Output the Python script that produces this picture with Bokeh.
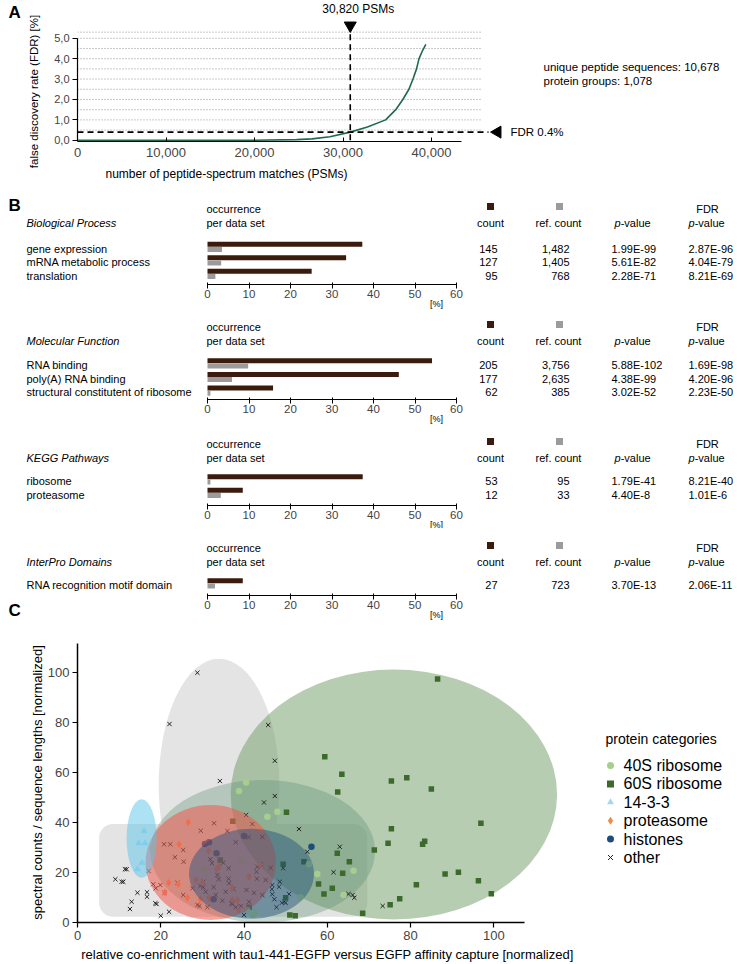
import numpy as np
from bokeh.plotting import figure
from bokeh.models import Range1d, FixedTicker, NumeralTickFormatter
from bokeh.layouts import column
from bokeh.embed import file_html
from bokeh.resources import INLINE
from bokeh.core.properties import value

FONT = "Liberation Sans"
W = 737
LEFT = 77          # common frame left edge of all stacked figures (column aligns frames)

# ---------------- Panel A data ----------------
psm_counts = [0, 10000, 20000, 24760, 26500, 28530, 30820, 32760, 34820, 35960,
              36760, 37450, 37910, 38310, 38590, 38990, 39360]
fdr_percent = [0.0, 0.0, 0.0, 0.03, 0.07, 0.17, 0.40, 0.65, 1.0, 1.5,
               2.0, 2.5, 3.0, 3.5, 4.0, 4.4, 4.7]
psm_cutoff = 30820
fdr_cutoff = 0.4
psm_ticks = [0, 10000, 20000, 30000, 40000]
fdr_ticks = [0, 1, 2, 3, 4, 5]
fdr_tick_labels = ["0,0", "1,0", "2,0", "3,0", "4,0", "5,0"]
summary_lines = ["unique peptide sequences: 10,678", "protein groups: 1,078"]

# ---------------- Panel B data ----------------
pct_ticks = [0, 10, 20, 30, 40, 50, 60]

bp_terms = ["gene expression", "mRNA metabolic process", "translation"]
bp_pct = [37.3, 33.4, 25.1]
bp_ref_pct = [3.5, 3.3, 1.9]
bp_count = ["145", "127", "95"]
bp_ref_count = ["1,482", "1,405", "768"]
bp_pvalue = ["1.99E-99", "5.61E-82", "2.28E-71"]
bp_fdr = ["2.87E-96", "4.04E-79", "8.21E-69"]

mf_terms = ["RNA binding", "poly(A) RNA binding", "structural constitutent of ribosome"]
mf_pct = [54.1, 46.1, 15.8]
mf_ref_pct = [9.8, 5.9, 0.7]
mf_count = ["205", "177", "62"]
mf_ref_count = ["3,756", "2,635", "385"]
mf_pvalue = ["5.88E-102", "4.38E-99", "3.02E-52"]
mf_fdr = ["1.69E-98", "4.20E-96", "2.23E-50"]

kegg_terms = ["ribosome", "proteasome"]
kegg_pct = [37.4, 8.5]
kegg_ref_pct = [0.7, 3.2]
kegg_count = ["53", "12"]
kegg_ref_count = ["95", "33"]
kegg_pvalue = ["1.79E-41", "4.40E-8"]
kegg_fdr = ["8.21E-40", "1.01E-6"]

ipr_terms = ["RNA recognition motif domain"]
ipr_pct = [8.5]
ipr_ref_pct = [1.8]
ipr_count = ["27"]
ipr_ref_count = ["723"]
ipr_pvalue = ["3.70E-13"]
ipr_fdr = ["2.06E-11"]

# ---------------- Panel C data ----------------
other_x = [9.1, 10.6, 11.0, 11.4, 11.8, 13.0, 12.6, 14.4, 16.7, 16.7, 17.1, 18.2, 18.8, 18.7, 19.0,
           20.0, 22.0, 19.9, 20.9, 20.8, 22.3, 23.4, 25.5, 25.4, 24.0, 25.4, 27.6, 28.8, 29.3, 29.6,
           29.5, 30.2, 30.2, 30.8, 31.2, 31.9, 32.3, 32.8, 32.7, 33.2, 33.6, 33.9, 34.8, 35.0, 35.6,
           36.0, 36.3, 36.3, 36.4, 37.0, 37.2, 37.5, 38.0, 38.0, 39.2, 40.0, 40.5, 40.6, 40.5, 41.1,
           41.2, 42.0, 42.4, 43.0, 43.1, 43.2, 44.4, 44.1, 44.4, 45.2, 46.4, 46.8, 46.8, 46.7, 47.3,
           47.8, 48.4, 48.6, 49.1, 49.4, 49.7, 50.0, 50.8, 53.2, 55.2, 61.5, 63.0, 65.1, 66.1, 66.5,
           44.8, 73.3, 28.8, 22.1, 45.8, 47.4, 34.2, 47.4]
other_y = [17.3, 16.3, 16.3, 21.3, 21.3, 8.3, 5.4, 11.9, 10.3, 12.1, 20.6, 15.3, 13.7, 7.7, 7.4,
           2.7, 4.3, 15.0, 11.9, 31.3, 31.3, 26.1, 24.3, 29.0, 15.9, 11.0, 13.7, 7.0, 6.6, 36.7,
           14.6, 16.3, 14.1, 12.3, 6.1, 25.3, 23.7, 39.7, 14.1, 11.0, 19.0, 17.3, 8.7, 23.9, 12.3,
           36.6, 17.5, 21.7, 15.7, 7.7, 7.4, 13.3, 32.1, 6.1, 6.6, 3.0, 43.0, 13.0, 5.0, 34.1,
           8.3, 39.4, 11.9, 20.3, 17.5, 22.3, 34.3, 23.3, 11.0, 17.0, 21.9, 15.0, 11.3, 13.3, 9.3,
           6.1, 14.3, 16.3, 7.9, 21.7, 8.3, 7.9, 11.4, 37.4, 28.3, 20.1, 30.3, 11.4, 11.0, 9.9,
           48.0, 6.6, 99.9, 79.4, 79.0, 64.7, 56.6, 50.6]

r60_x = [59.4, 63.5, 62.5, 50.2, 37.3, 86.5, 75.4, 79.1, 85.0, 96.9, 75.4, 74.6, 82.9, 83.4, 88.3,
         91.5, 96.3, 99.4, 81.4, 77.4, 75.1, 49.4, 54.4, 57.9, 59.2, 61.2, 63.7, 62.4, 65.3, 71.3,
         68.5, 51.0, 52.3, 50.0, 41.2, 34.3]
r60_y = [66.3, 59.3, 52.2, 44.1, 40.5, 97.4, 56.6, 57.9, 53.4, 39.7, 37.5, 31.7, 31.3, 32.5, 19.4,
         20.1, 16.7, 11.5, 15.1, 9.5, 7.1, 23.3, 24.3, 15.4, 11.4, 13.7, 19.7, 27.7, 24.3, 29.0,
         3.7, 3.0, 2.7, 9.9, 6.1, 25.0]

r40_x = [40.5, 38.8, 48.0, 45.6, 55.6, 57.6, 66.3, 63.9, 39.4, 30.4, 42.7, 42.2, 40.8, 53.6, 18.0]
r40_y = [56.0, 52.6, 44.3, 42.3, 23.3, 19.4, 20.7, 11.0, 24.6, 21.4, 3.9, 3.0, 5.0, 10.0, 29.7]

p1433_x = [16.0, 14.7, 16.2, 15.5, 14.4]
p1433_y = [36.6, 31.7, 31.7, 23.9, 21.3]

prot_x = [26.6, 24.4, 31.5, 21.9, 24.2, 21.0, 26.4, 28.4, 29.5, 30.0, 31.6, 33.4, 34.0, 37.2, 37.2,
          38.4, 38.7, 43.9, 41.2, 43.9]
prot_y = [40.1, 31.3, 28.7, 15.9, 15.3, 12.1, 9.9, 17.0, 9.3, 15.9, 9.9, 21.3, 22.3, 13.9, 9.0,
          9.0, 5.0, 37.0, 18.3, 23.0]

hist_x = [30.6, 31.6, 33.4, 32.7, 40.0, 56.2]
hist_y = [31.4, 32.1, 27.7, 9.3, 34.6, 30.3]

# category areas: (centre x, centre y, width, height)
area_other_tall = (34.0, 55.0, 29.0, 101.0)
area_other_box = (5.2, 69.6, 2.3, 39.4)      # left, right, bottom, top
area_60s = (76.0, 51.2, 78.4, 100.0)
area_40s = (44.5, 28.5, 54.0, 57.0)
area_prot = (32.0, 24.0, 31.3, 46.0)
area_hist = (41.8, 19.5, 30.0, 36.0)
area_1433 = (15.4, 33.6, 7.2, 31.4)

legend_names = ["40S ribosome", "60S ribosome", "14-3-3", "proteasome", "histones", "other"]

C_40S = "#a7cd8f"
C_60S = "#3b6a2c"
C_1433 = "#a3d9ee"
C_PROT = "#f28a45"
C_HIST = "#1d4d7c"
C_OTHER = "#222222"
DARK = "#3c1b0f"
GRAY = "#9b9b9b"


def base_fig(height, xr, yr, bottom=0, yaxis=True):
    p = figure(width=W, height=height, title=None, output_backend="svg", toolbar_location=None,
               x_range=xr, y_range=yr, min_border=0, min_border_left=LEFT,
               min_border_bottom=bottom, min_border_top=0, min_border_right=0,
               y_axis_location=("left" if yaxis else None),
               outline_line_color=None, background_fill_color="white", border_fill_color="white")
    p.xgrid.visible = False
    p.ygrid.visible = False
    return p


def txt(p, x, y, s, size="11px", align="left", style="normal", color="black",
        baseline="middle", angle=0.0):
    # drawn at overlay level so that texts may also sit outside the plot frame
    p.text(x=[x], y=[y], text=[s], text_font=value(FONT), text_font_size=size,
           text_align=align, text_baseline=baseline, text_font_style=style, text_color=color,
           angle=angle, level="overlay")


def txts(p, xs, ys, ss, size="11px", align="left"):
    p.text(x=xs, y=ys, text=ss, text_font=value(FONT), text_font_size=size,
           text_align=align, text_baseline="middle", level="overlay")


# ====================== Panel A ======================
A_X0, A_PX = float(LEFT), 8.85 / 1000.0      # image x of 0 PSMs, px per PSM
A_Y0, A_PY, A_YMIN = 141.0, 20.4, -0.06
A_TOP, A_BOT = 0, 186


def ax(ix):
    return (ix - A_X0) / A_PX


def ay(iy):
    return A_YMIN + (A_Y0 - iy) / A_PY


pA = base_fig(A_BOT - A_TOP, Range1d(0, ax(W)), Range1d(A_YMIN, ay(A_TOP)), bottom=int(A_BOT - A_Y0))
pA.xaxis.bounds = (0, 43400)
pA.xaxis.ticker = FixedTicker(ticks=psm_ticks)
pA.xaxis.formatter = NumeralTickFormatter(format="0,0")
pA.xaxis.major_tick_in = 4
pA.xaxis.major_tick_out = 0
pA.xaxis.major_label_standoff = 6
pA.xaxis.major_label_text_font_size = "13px"
pA.yaxis.bounds = (0, 5)
pA.yaxis.ticker = FixedTicker(ticks=fdr_ticks)
pA.yaxis.major_label_overrides = {t: l for t, l in zip(fdr_ticks, fdr_tick_labels)}
pA.yaxis.major_tick_in = 0
pA.yaxis.major_tick_out = 5
pA.yaxis.major_label_standoff = 3
pA.yaxis.major_label_text_font_size = "11px"
for a in (pA.xaxis[0], pA.yaxis[0]):
    a.major_label_text_font = FONT
    a.minor_tick_line_color = None
    a.axis_line_width = 1.2

grid_levels = list(np.arange(0.5, 5.01, 0.5)) + [5.3]
pA.segment(x0=[0] * len(grid_levels), y0=grid_levels, x1=[ax(480)] * len(grid_levels), y1=grid_levels,
           line_color="#7a7a7a", line_width=0.8, line_dash="1 2")
pA.line(psm_counts, fdr_percent, line_color="#1e6b4b", line_width=1.6)
pA.segment(x0=[0], y0=[fdr_cutoff], x1=[ax(488)], y1=[fdr_cutoff], line_color="black",
           line_width=1.6, line_dash="6 4")
tri_y = ay(25)
pA.segment(x0=[psm_cutoff], y0=[0], x1=[psm_cutoff], y1=[tri_y], line_color="black",
           line_width=1.6, line_dash="6 4")
pA.scatter(x=[psm_cutoff], y=[tri_y], marker="inverted_triangle", size=12, fill_color="black",
           line_color="black")
pA.scatter(x=[ax(497)], y=[fdr_cutoff], marker="triangle", angle=np.pi / 2, size=12,
           fill_color="black", line_color="black")
txt(pA, psm_cutoff + 8 / A_PX, ay(8), f"{psm_cutoff:,} PSMs", size="12px", align="center")
txt(pA, ax(510), fdr_cutoff, f"FDR {fdr_cutoff}%", size="11.5px")
txt(pA, ax(543), ay(66), summary_lines[0], size="11.5px")
txt(pA, ax(543), ay(80), summary_lines[1], size="11.5px")
txt(pA, ax(8), ay(12), "A", size="17px", style="bold")
txt(pA, ax(33), ay(91), "false discovery rate (FDR) [%]", size="11.5px", align="center", angle=np.pi / 2)
txt(pA, ax(226), ay(173), "number of peptide-spectrum matches (PSMs)", size="12px", align="center")

# ====================== Panel B ======================
B_X0, B_PX = 207.0, 4.15


def bx(ix):
    return (ix - B_X0) / B_PX


def panel_b(top, axis_y, bottom, heading, terms, pct, ref_pct, counts, refs, pvals, fdrs,
            hdr_y, row0_y, row_step, letter=None):
    fh = axis_y - top
    p = base_fig(bottom - top, Range1d(bx(LEFT), bx(W)), Range1d(fh, 0), bottom=bottom - axis_y, yaxis=False)
    xa = p.xaxis[0]
    xa.bounds = (0, 60)
    xa.ticker = FixedTicker(ticks=pct_ticks)
    xa.major_tick_in = 2
    xa.major_tick_out = 4
    xa.major_label_standoff = 1
    xa.major_label_text_font = FONT
    xa.major_label_text_font_size = "11.5px"
    xa.minor_tick_line_color = None
    xa.axis_line_width = 1.2

    rows = [row0_y - top + i * row_step for i in range(len(terms))]
    p.hbar(y=[r - 4.3 for r in rows], left=0, right=pct, height=5, fill_color=DARK, line_color=None)
    p.hbar(y=[r + 0.9 for r in rows], left=0, right=ref_pct, height=5, fill_color=GRAY, line_color=None)

    h1 = hdr_y - top
    h2 = h1 + 14
    txt(p, bx(26), h2, heading, style="italic")
    txt(p, bx(206), h1, "occurrence")
    txt(p, bx(206), h2, "per data set")
    p.scatter(x=[bx(490), bx(559)], y=[h1 - 2, h1 - 2], marker="square", size=7,
              fill_color=[DARK, GRAY], line_color=None)
    txt(p, bx(490), h2, "count", align="center")
    txt(p, bx(558), h2, "ref. count", align="center")
    txt(p, bx(614), h2, "p", style="italic")
    txt(p, bx(620.2), h2, "-value")
    txt(p, bx(707), h1, "FDR", align="center")
    txt(p, bx(688), h2, "p", style="italic")
    txt(p, bx(694.2), h2, "-value")
    n = len(rows)
    txts(p, [bx(26)] * n, rows, terms)
    txts(p, [bx(497)] * n, rows, counts, align="right")
    txts(p, [bx(569)] * n, rows, refs, align="right")
    txts(p, [bx(611)] * n, rows, pvals)
    txts(p, [bx(688)] * n, rows, fdrs)
    txt(p, bx(436), fh + 19, "[%]", size="9px", align="center")
    if letter:
        txt(p, bx(8), letter[1] - top, letter[0], size="17px", style="bold")
    return p


pB1 = panel_b(186, 284, 309, "Biological Process", bp_terms, bp_pct, bp_ref_pct, bp_count, bp_ref_count,
              bp_pvalue, bp_fdr, 208, 248, 13.5, letter=("B", 205))
pB2 = panel_b(309, 399, 424, "Molecular Function", mf_terms, mf_pct, mf_ref_pct, mf_count, mf_ref_count,
              mf_pvalue, mf_fdr, 326, 364.5, 13.7)
pB3 = panel_b(424, 505, 528, "KEGG Pathways", kegg_terms, kegg_pct, kegg_ref_pct, kegg_count,
              kegg_ref_count, kegg_pvalue, kegg_fdr, 443, 480.5, 13.5)
pB4 = panel_b(528, 595, 622, "InterPro Domains", ipr_terms, ipr_pct, ipr_ref_pct, ipr_count,
              ipr_ref_count, ipr_pvalue, ipr_fdr, 547, 584.5, 13.5, letter=("C", 610))

# ====================== Panel C ======================
C_TOP, C_BOT = 622, 962
C_X0, C_PX = float(LEFT), 4.163
C_Y0, C_PY = 922.0, 2.5


def cx(ix):
    return (ix - C_X0) / C_PX


def cy(iy):
    return (C_Y0 - iy) / C_PY


pC = base_fig(C_BOT - C_TOP, Range1d(0, cx(W)), Range1d(0, cy(C_TOP)), bottom=int(C_BOT - C_Y0))
pC.xaxis.bounds = (0, 107.3)
pC.yaxis.bounds = (0, 111.8)
pC.xaxis.ticker = FixedTicker(ticks=[0, 20, 40, 60, 80, 100])
pC.yaxis.ticker = FixedTicker(ticks=[0, 20, 40, 60, 80, 100])
for a in (pC.xaxis[0], pC.yaxis[0]):
    a.major_label_text_font = FONT
    a.major_label_text_font_size = "13px"
    a.minor_tick_line_color = None
    a.major_tick_in = 0
    a.major_tick_out = 5
    a.major_label_standoff = 3
    a.axis_line_width = 1.5
    a.major_tick_line_width = 1.2

# category areas below the points
l, r, b, t = area_other_box
pC.quad(left=[l], right=[r], bottom=[b], top=[t], border_radius=14, fill_color="#e4e4e4", line_color=None)
pC.ellipse(x=[area_other_tall[0]], y=[area_other_tall[1]], width=[area_other_tall[2]],
           height=[area_other_tall[3]], fill_color="#e4e4e4", line_color=None)
pC.ellipse(x=[area_60s[0]], y=[area_60s[1]], width=[area_60s[2]], height=[area_60s[3]],
           fill_color="#6d9b65", fill_alpha=0.5, line_color=None)
pC.ellipse(x=[area_40s[0]], y=[area_40s[1]], width=[area_40s[2]], height=[area_40s[3]],
           fill_color="#5f8f75", fill_alpha=0.35, line_color=None)

# points
pC.scatter(other_x, other_y, marker="x", size=6, line_color=C_OTHER, line_width=1)
pC.scatter(r60_x, r60_y, marker="square", size=5.5, fill_color=C_60S, line_color=None)
pC.scatter(r40_x, r40_y, marker="circle", size=6.5, fill_color=C_40S, line_color=None)
pC.scatter(p1433_x, p1433_y, marker="triangle", size=7, fill_color=C_1433, line_color=None)
pC.scatter(prot_x, prot_y, marker="diamond", size=8, fill_color=C_PROT, line_color=None)
pC.scatter(hist_x, hist_y, marker="circle", size=6.5, fill_color=C_HIST, line_color=None)

# category areas above the points
pC.ellipse(x=[area_prot[0]], y=[area_prot[1]], width=[area_prot[2]], height=[area_prot[3]],
           fill_color="#ee5a4e", fill_alpha=0.55, line_color=None)
pC.ellipse(x=[area_hist[0]], y=[area_hist[1]], width=[area_hist[2]], height=[area_hist[3]],
           fill_color="#1f4e79", fill_alpha=0.45, line_color=None)
pC.ellipse(x=[area_1433[0]], y=[area_1433[1]], width=[area_1433[2]], height=[area_1433[3]],
           fill_color="#5cc3ea", fill_alpha=0.5, line_color=None)

# legend
txt(pC, cx(605), cy(738), "protein categories", size="14px")
leg_y = [cy(765 + i * 18.4) for i in range(len(legend_names))]
leg_mx = cx(610)
pC.scatter([leg_mx], [leg_y[0]], marker="circle", size=7, fill_color=C_40S, line_color=None)
pC.scatter([leg_mx], [leg_y[1]], marker="square", size=7, fill_color=C_60S, line_color=None)
pC.scatter([leg_mx], [leg_y[2]], marker="triangle", size=7, fill_color=C_1433, line_color=None)
pC.scatter([leg_mx], [leg_y[3]], marker="diamond", size=8, fill_color=C_PROT, line_color=None)
pC.scatter([leg_mx], [leg_y[4]], marker="circle", size=7, fill_color=C_HIST, line_color=None)
pC.scatter([leg_mx], [leg_y[5]], marker="x", size=7, line_color=C_OTHER, line_width=1)
txts(pC, [cx(623)] * len(legend_names), leg_y, legend_names, size="16px")

txt(pC, cx(37), cy(782), "spectral counts / sequence lengths [normalized]", size="13px",
    align="center", angle=np.pi / 2)
txt(pC, cx(327), cy(954), "relative co-enrichment with tau1-441-EGFP versus EGFP affinity capture [normalized]",
    size="13px", align="center")

layout = column(pA, pB1, pB2, pB3, pB4, pC, spacing=0)
open("out.html", "w").write(file_html(layout, INLINE))
